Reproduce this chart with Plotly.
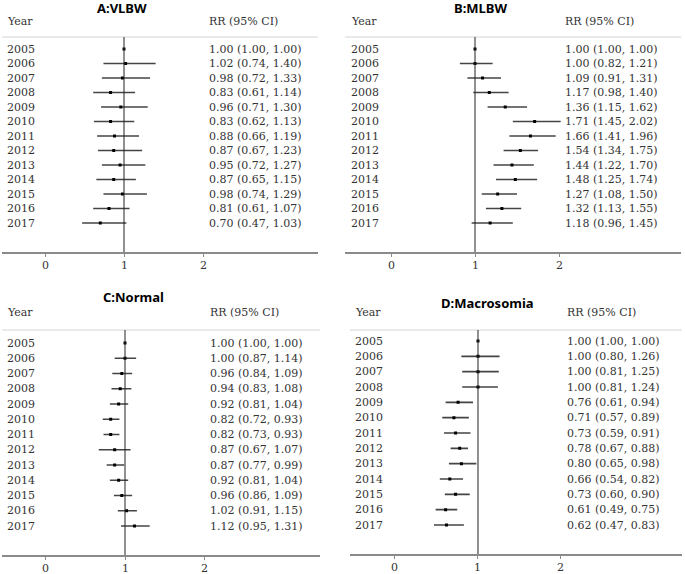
import plotly.graph_objects as go

W, H = 685, 574

years = [str(y) for y in range(2005, 2018)]

titles = ["A:VLBW", "B:MLBW", "C:Normal", "D:Macrosomia"]

vlbw_rr = [1.00, 1.02, 0.98, 0.83, 0.96, 0.83, 0.88, 0.87, 0.95, 0.87, 0.98, 0.81, 0.70]
vlbw_lo = [1.00, 0.74, 0.72, 0.61, 0.71, 0.62, 0.66, 0.67, 0.72, 0.65, 0.74, 0.61, 0.47]
vlbw_hi = [1.00, 1.40, 1.33, 1.14, 1.30, 1.13, 1.19, 1.23, 1.27, 1.15, 1.29, 1.07, 1.03]

mlbw_rr = [1.00, 1.00, 1.09, 1.17, 1.36, 1.71, 1.66, 1.54, 1.44, 1.48, 1.27, 1.32, 1.18]
mlbw_lo = [1.00, 0.82, 0.91, 0.98, 1.15, 1.45, 1.41, 1.34, 1.22, 1.25, 1.08, 1.13, 0.96]
mlbw_hi = [1.00, 1.21, 1.31, 1.40, 1.62, 2.02, 1.96, 1.75, 1.70, 1.74, 1.50, 1.55, 1.45]

normal_rr = [1.00, 1.00, 0.96, 0.94, 0.92, 0.82, 0.82, 0.87, 0.87, 0.92, 0.96, 1.02, 1.12]
normal_lo = [1.00, 0.87, 0.84, 0.83, 0.81, 0.72, 0.73, 0.67, 0.77, 0.81, 0.86, 0.91, 0.95]
normal_hi = [1.00, 1.14, 1.09, 1.08, 1.04, 0.93, 0.93, 1.07, 0.99, 1.04, 1.09, 1.15, 1.31]

macro_rr = [1.00, 1.00, 1.00, 1.00, 0.76, 0.71, 0.73, 0.78, 0.80, 0.66, 0.73, 0.61, 0.62]
macro_lo = [1.00, 0.80, 0.81, 0.81, 0.61, 0.57, 0.59, 0.67, 0.65, 0.54, 0.60, 0.49, 0.47]
macro_hi = [1.00, 1.26, 1.25, 1.24, 0.94, 0.89, 0.91, 0.88, 0.98, 0.82, 0.90, 0.75, 0.83]

tick_vals = [0, 1, 2]
tick_text = ["0", "1", "2"]

series = [
    (vlbw_rr, vlbw_lo, vlbw_hi),
    (mlbw_rr, mlbw_lo, mlbw_hi),
    (normal_rr, normal_lo, normal_hi),
    (macro_rr, macro_lo, macro_hi),
]

# panel layout in pixels: x of "1", pixels per unit, y of header line, y of axis,
# y of first row, y of last row, y of header text, title x, title y
panels = [
    dict(x1=124, ux=79.0, yg=37, ya=252, yf=49, yl=223, yh=21, tx=122, ty=8),
    dict(x1=475, ux=84.0, yg=37, ya=252, yf=49, yl=223, yh=21, tx=480, ty=8),
    dict(x1=125, ux=79.5, yg=330, ya=555, yf=343, yl=526, yh=312, tx=133, ty=297),
    dict(x1=478, ux=83.0, yg=330, ya=554, yf=341, yl=525, yh=312, tx=487, ty=303),
]

XR = [-0.544, 3.456]
YEAR_X = -0.505
TEXT_X = 2.045
TICKLAB_DY = 13

def px(x):
    return x / W

def py(y):
    return 1 - y / H

SERIF = "DejaVu Serif"
TXT_COL = "#333333"

fig = go.Figure()
layout = dict(
    width=W, height=H,
    margin=dict(l=0, r=0, t=0, b=0),
    paper_bgcolor="white", plot_bgcolor="white",
    showlegend=False,
)
shapes = []
annotations = []

for k, (p, (rr, lo, hi), title) in enumerate(zip(panels, series, titles), start=1):
    xa = "x" if k == 1 else f"x{k}"
    ya_ = "y" if k == 1 else f"y{k}"
    xname = "xaxis" if k == 1 else f"xaxis{k}"
    yname = "yaxis" if k == 1 else f"yaxis{k}"

    left_px = p["x1"] + (XR[0] - 1) * p["ux"]
    right_px = p["x1"] + (XR[1] - 1) * p["ux"]
    sp = (p["yl"] - p["yf"]) / 12.0
    y_top = -(p["yf"] - p["yg"]) / sp
    y_bot = 12 + (p["ya"] - p["yl"]) / sp

    layout[xname] = dict(
        domain=[px(left_px), px(right_px)], range=XR, anchor=ya_,
        showgrid=False, zeroline=False, showline=True, linecolor="#8a8a8a", linewidth=1.5,
        ticks="outside", ticklen=3, tickwidth=1, tickcolor="#8a8a8a",
        tickvals=tick_vals, showticklabels=False, fixedrange=True,
    )
    layout[yname] = dict(
        domain=[py(p["ya"]), py(p["yg"])], anchor=xa, type="category",
        categoryorder="array", categoryarray=years,
        range=[y_bot, y_top], showgrid=False, zeroline=False, showline=False,
        showticklabels=False, ticks="", fixedrange=True,
    )

    fig.add_trace(go.Scatter(
        x=rr, y=years, mode="markers", xaxis=xa, yaxis=ya_,
        marker=dict(symbol="square", size=3, color="black", line=dict(width=0)),
        error_x=dict(type="data", symmetric=False,
                     array=[h - r for h, r in zip(hi, rr)],
                     arrayminus=[r - l for r, l in zip(rr, lo)],
                     color="#444444", thickness=1.7, width=0),
        hoverinfo="skip",
    ))

    # header separator line
    shapes.append(dict(type="line", xref=f"{xa} domain", yref="paper",
                       x0=0, x1=1, y0=py(p["yg"]), y1=py(p["yg"]),
                       line=dict(color="#d4d4d4", width=1)))
    # reference line at RR = 1
    shapes.append(dict(type="line", xref=xa, yref=f"{ya_} domain",
                       x0=1, x1=1, y0=0, y1=1,
                       line=dict(color="#222222", width=1)))

    for i, (yr, r, l, h) in enumerate(zip(years, rr, lo, hi)):
        annotations.append(dict(x=YEAR_X, y=i, xref=xa, yref=ya_, text=yr,
                                showarrow=False, xanchor="left", yanchor="middle",
                                font=dict(family=SERIF, size=11, color=TXT_COL)))
        annotations.append(dict(x=TEXT_X, y=i, xref=xa, yref=ya_,
                                text=f"{r:.2f} ({l:.2f}, {h:.2f})",
                                showarrow=False, xanchor="left", yanchor="middle",
                                font=dict(family=SERIF, size=11, color=TXT_COL)))

    # x tick labels
    for tv, tt in zip(tick_vals, tick_text):
        annotations.append(dict(x=tv, y=py(p["ya"] + TICKLAB_DY), xref=xa, yref="paper",
                                text=tt, showarrow=False, xanchor="center", yanchor="middle",
                                font=dict(family=SERIF, size=11, color=TXT_COL)))

    # headers
    annotations.append(dict(x=px(p["x1"] + (YEAR_X - 1) * p["ux"]), y=py(p["yh"]),
                            xref="paper", yref="paper", text="Year", showarrow=False,
                            xanchor="left", yanchor="middle",
                            font=dict(family=SERIF, size=11, color=TXT_COL)))
    annotations.append(dict(x=px(p["x1"] + (TEXT_X - 1) * p["ux"]), y=py(p["yh"]),
                            xref="paper", yref="paper", text="RR (95% CI)", showarrow=False,
                            xanchor="left", yanchor="middle",
                            font=dict(family=SERIF, size=11, color=TXT_COL)))
    # panel title
    annotations.append(dict(x=px(p["tx"]), y=py(p["ty"]), xref="paper", yref="paper",
                            text=f"<b>{title}</b>", showarrow=False,
                            xanchor="center", yanchor="middle",
                            font=dict(family="Noto Sans", size=13, color="black")))

layout["shapes"] = shapes
layout["annotations"] = annotations
fig.update_layout(**layout)

fig.write_html("out.html",
               config={"displayModeBar": False, "staticPlot": True},
               post_script="document.body.style.margin='0';document.body.style.overflow='hidden';")
